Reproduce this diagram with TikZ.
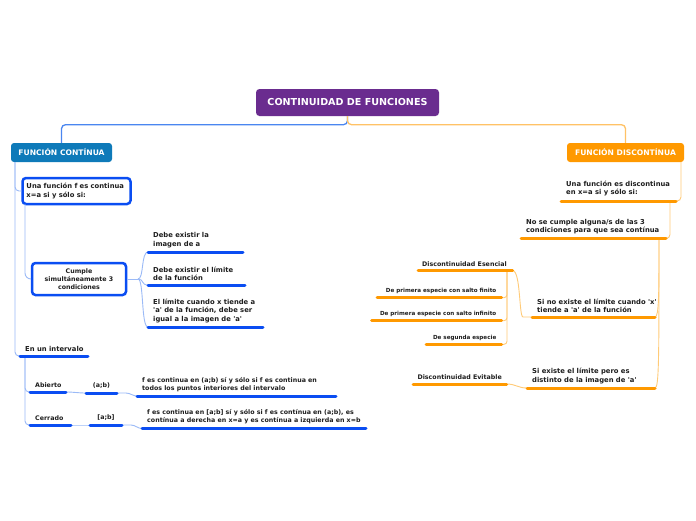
\documentclass[tikz,border=0pt]{standalone}
\usepackage{fontspec}
\setmainfont{DejaVu Sans}
\definecolor{ink}{HTML}{1E1E1E}
\definecolor{purp}{HTML}{6A2C8F}
\definecolor{fcb}{HTML}{0E7AB9}
\definecolor{fdo}{HTML}{FF9900}
\definecolor{bb}{HTML}{0A4DF2}
\definecolor{mb}{HTML}{4A86F0}
\definecolor{lb}{HTML}{9BBAF7}
\definecolor{lo}{HTML}{FFCB78}
\definecolor{mo}{HTML}{FFC266}
\newcommand{\myq}{\textquotesingle}
\tikzset{
  lbl/.style={font=\bfseries\fontsize{6.8}{8.5}\selectfont, text=ink, inner sep=0pt, align=left},
  lblsm/.style={font=\bfseries\fontsize{6.3}{8.2}\selectfont, text=ink, inner sep=0pt, align=left},
  lbltiny/.style={font=\bfseries\fontsize{5.6}{7}\selectfont, text=ink, inner sep=0pt, align=left},
  titlebox/.style={fill=purp, rounded corners=3.5pt, minimum width=183pt, minimum height=27pt, text=white, inner sep=0pt, font=\bfseries\fontsize{9.6}{11}\selectfont},
  topbox/.style={rounded corners=3pt, minimum height=19pt, text=white, inner sep=0pt, font=\bfseries\fontsize{7.6}{9}\selectfont},
  bbox/.style={draw=bb, line width=2.5pt, fill=white, rounded corners=3.5pt, text=ink},
  ulb/.style={draw=bb, line width=3pt, line cap=round},
  ulo/.style={draw=fdo, line width=3pt, line cap=round},
  lbline/.style={draw=lb, line width=0.9pt},
  loline/.style={draw=lo, line width=0.9pt},
}
\begin{document}
\begin{tikzpicture}[x=1pt,y=-1pt]
\useasboundingbox (0,0) rectangle (696,520);
\fill[white] (0,0) rectangle (696,520);

% ---- top level
\node[titlebox] (title) at (347.5,102.5) {CONTINUIDAD DE FUNCIONES};
\node[topbox, fill=fcb, minimum width=101pt] (fc) at (61.5,152.5) {FUNCIÓN CONTÍNUA};
\node[topbox, fill=fdo, minimum width=117pt] (fd) at (625.5,152.5) {FUNCIÓN DISCONTÍNUA};
\draw[mb, line width=1.3pt, rounded corners=4pt] (title.south) -- ++(0,8.5) -| (fc.north);
\draw[mo, line width=1.3pt, rounded corners=4pt] (title.south) -- ++(0,8.5) -| (fd.north);

% ---- left tree coordinates
\coordinate (fcs) at (15,162);
\coordinate (ivl) at (20,356);
\coordinate (ivr) at (88,356);
\coordinate (ivj) at (25,356);
\coordinate (unas) at (25,204);
\coordinate (cj) at (138,279);
\coordinate (d1l) at (148,252); \coordinate (d1r) at (243,252);
\coordinate (d2l) at (148,285); \coordinate (d2r) at (245,285);
\coordinate (d3l) at (148,327); \coordinate (d3r) at (263,327);
\coordinate (abl) at (30,392); \coordinate (abr) at (66,392);
\coordinate (cel) at (30,425); \coordinate (cer) at (71,425);
\coordinate (ol) at (86,393); \coordinate (or) at (117,393);
\coordinate (cl) at (90,425); \coordinate (cr) at (122,425);
\coordinate (f1l) at (137,396); \coordinate (f1r) at (336,396);
\coordinate (f2l) at (142,428.5); \coordinate (f2r) at (366,428.5);

\node[bbox, lbl, text width=100pt, inner xsep=4pt, minimum height=26pt] (una) at (76.5,191) {Una función f es continua\\x=a si y sólo si:};
\node[bbox, lblsm, align=center, minimum width=94pt, minimum height=32pt] (cum) at (79,279) {Cumple\\simultáneamente 3\\condiciones};

% left connectors
\draw[lbline, rounded corners=4pt] (fcs) |- (una.west);
\draw[lbline, rounded corners=4pt] (fcs) |- (ivl);
\draw[lbline, rounded corners=6pt] (unas) |- (cum.west);
\draw[lbline] (cum.east) -- (cj);
\draw[lbline] (cj) .. controls +(6,0) and +(-7,0) .. (d1l);
\draw[lbline] (cj) .. controls +(6,0) and +(-7,0) .. (d2l);
\draw[lbline] (cj) .. controls +(6,0) and +(-7,0) .. (d3l);
\draw[lbline, rounded corners=4pt] (ivj) |- (abl);
\draw[lbline, rounded corners=4pt] (ivj) |- (cel);
\draw[lbline] (abr) .. controls +(8,0) and +(-8,0) .. (ol);
\draw[lbline] (or) -- ++(9,0) .. controls +(4,0) and +(-4,0) .. (f1l);
\draw[lbline] (cer) .. controls +(8,0) and +(-8,0) .. (cl);
\draw[lbline] (cr) -- ++(9,0) .. controls +(4,0) and +(-4,0) .. (f2l);

% left underlines
\draw[ulb] (d1l) -- (d1r);
\draw[ulb] (d2l) -- (d2r);
\draw[ulb] (d3l) -- (d3r);
\draw[ulb] (ivl) -- (ivr);
\draw[ulb] (abl) -- (abr);
\draw[ulb] (cel) -- (cer);
\draw[ulb] (ol) -- (or);
\draw[ulb] (cl) -- (cr);
\draw[ulb] (f1l) -- (f1r);
\draw[ulb] (f2l) -- (f2r);

% left texts
\node[lbl, anchor=south west] (d1t) at (153,248) {Debe existir la\\imagen de a};
\node[lbl, anchor=south west] (d2t) at (153,281) {Debe existir el límite\\de la función};
\node[lbl, anchor=south west] (d3t) at (153,323) {El límite cuando x tiende a\\\myq a\myq{} de la función, debe ser\\igual a la imagen de \myq a\myq};
\node[lbl, anchor=south west] (ivt) at (25,352) {En un intervalo};
\node[lblsm, anchor=south west] (abt) at (35,388) {Abierto};
\node[lblsm, anchor=south west] (cet) at (35,421) {Cerrado};
\node[lblsm, anchor=south] (abi) at (101.5,389) {(a;b)};
\node[lblsm, anchor=south] (cei) at (106,421) {[a;b]};
\node[lblsm, anchor=south west] (f1t) at (142,392.5) {f es continua en (a;b) sí y sólo si f es continua en\\todos los puntos interiores del intervalo};
\node[lblsm, anchor=south west] (f2t) at (147,424.5) {f es continua en [a;b] sí y sólo si f es contínua en (a;b), es\\contínua a derecha en x=a y es contínua a izquierda en x=b};

% ---- right tree coordinates
\coordinate (fds) at (681,162);
\coordinate (u1l) at (561,201); \coordinate (u1r) at (676,201);
\coordinate (u1j) at (670,201);
\coordinate (nsl) at (521,238.5); \coordinate (nsr) at (666,238.5);
\coordinate (nsj) at (659,238.5);
\coordinate (snl) at (532,317); \coordinate (snr) at (655,317);
\coordinate (sel) at (527,388); \coordinate (ser) at (655,388);
\coordinate (del) at (418,270.7); \coordinate (der) at (512.7,270.7);
\coordinate (dej) at (507,270.7);
\coordinate (p1l) at (377,297.7); \coordinate (p1r) at (501.7,297.7);
\coordinate (p2l) at (371.7,320.7); \coordinate (p2r) at (501.7,320.7);
\coordinate (p3l) at (426,344.3); \coordinate (p3r) at (501.7,344.3);
\coordinate (evl) at (413,384); \coordinate (evr) at (506.7,384);

% right connectors
\draw[loline, rounded corners=4pt] (fds) |- (u1r);
\draw[loline, rounded corners=4pt] (u1j) |- (nsr);
\draw[loline] (nsj) .. controls +(0,55) and +(4,0) .. (snr);
\draw[loline] (nsj) .. controls +(0,120) and +(4,0) .. (ser);
\draw[loline] (snl) -- ++(-9,0) .. controls +(-4,0) and +(8,0) .. (der);
\draw[loline, rounded corners=3pt] (dej) |- (p1r);
\draw[loline, rounded corners=3pt] (dej) |- (p2r);
\draw[loline, rounded corners=3pt] (dej) |- (p3r);
\draw[loline] (evr) .. controls +(9,0) and +(-9,0) .. (sel);

% right underlines
\draw[ulo] (u1l) -- (u1r);
\draw[ulo] (nsl) -- (nsr);
\draw[ulo] (snl) -- (snr);
\draw[ulo] (sel) -- (ser);
\draw[ulo] (del) -- (der);
\draw[ulo] (p1l) -- (p1r);
\draw[ulo] (p2l) -- (p2r);
\draw[ulo] (p3l) -- (p3r);
\draw[ulo] (evl) -- (evr);

% right texts
\node[lbl, anchor=south west] (u1t) at (566,196.5) {Una función es discontinua\\en x=a si y sólo si:};
\node[lbl, anchor=south west] (nst) at (526,234.5) {No se cumple alguna/s de las 3\\condiciones para que sea contínua};
\node[lbl, anchor=south west] (snt) at (537,313) {Si no existe el límite cuando \myq x\myq\\tiende a \myq a\myq{} de la función};
\node[lbl, anchor=south west] (set) at (532,384) {Si existe el límite pero es\\distinto de la imagen de \myq a\myq};
\node[lblsm, anchor=south east] (det) at (507,266.5) {Discontinuidad Esencial};
\node[lbltiny, anchor=south east] (p1t) at (496.5,294) {De primera especie con salto finito};
\node[lbltiny, anchor=south east] (p2t) at (496.5,317) {De primera especie con salto infinito};
\node[lbltiny, anchor=south east] (p3t) at (496.5,340.5) {De segunda especie};
\node[lblsm, anchor=south east] (evt) at (502,380) {Discontinuidad Evitable};
\end{tikzpicture}
\end{document}
